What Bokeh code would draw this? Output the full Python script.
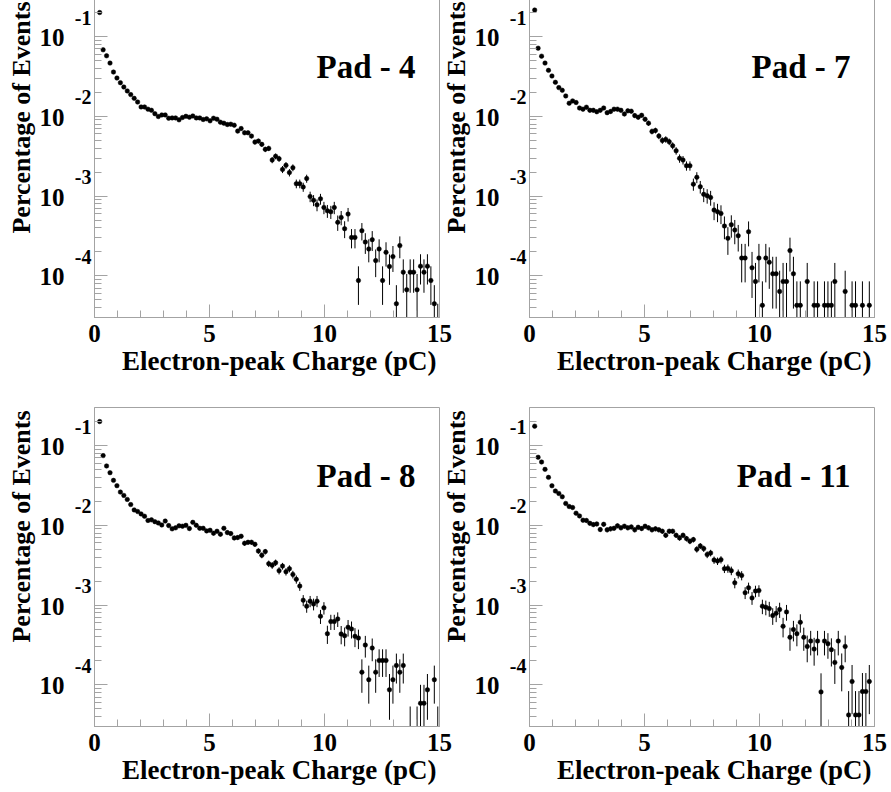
import math
from bokeh.plotting import figure
from bokeh.models import (ColumnDataSource, Label, FixedTicker, LogTicker, Range1d,
                          CustomJSTickFormatter, LogAxis, LogScale, Title)
from bokeh.layouts import row, column
from bokeh.embed import file_html
from bokeh.resources import INLINE

# ---------------- data ----------------
BIN_CENTERS = [
    0.225, 0.375, 0.525, 0.675, 0.825, 0.975, 1.125, 1.275, 1.425, 1.575,
    1.725, 1.875, 2.025, 2.175, 2.325, 2.475, 2.625, 2.775, 2.925, 3.075,
    3.225, 3.375, 3.525, 3.675, 3.825, 3.975, 4.125, 4.275, 4.425, 4.575,
    4.725, 4.875, 5.025, 5.175, 5.325, 5.475, 5.625, 5.775, 5.925, 6.075,
    6.225, 6.375, 6.525, 6.675, 6.825, 6.975, 7.125, 7.275, 7.425, 7.575,
    7.725, 7.875, 8.025, 8.175, 8.325, 8.475, 8.625, 8.775, 8.925, 9.075,
    9.225, 9.375, 9.525, 9.675, 9.825, 9.975, 10.125, 10.275, 10.425, 10.575,
    10.725, 10.875, 11.025, 11.175, 11.325, 11.475, 11.625, 11.775, 11.925, 12.075,
    12.225, 12.375, 12.525, 12.675, 12.825, 12.975, 13.125, 13.275, 13.425, 13.575,
    13.725, 13.875, 14.025, 14.175, 14.325, 14.475, 14.625, 14.775, 14.925,
]

PAD4 = [
    0.200, 0.0682, 0.0574, 0.0465, 0.0359, 0.0302, 0.0264, 0.0233, 0.0208, 0.0187,
    0.0168, 0.0151, 0.0131, 0.0131, 0.0123, 0.0119, 0.0108, 0.00993, 0.0104, 0.0104,
    0.00946, 0.00955, 0.00955, 0.00902, 0.00966, 0.0100, 0.00975, 0.0101, 0.00955, 0.00955,
    0.00912, 0.00929, 0.00877, 0.00946, 0.00920, 0.00843, 0.00820, 0.00789, 0.00796, 0.00774,
    0.00652, 0.00703, 0.00621, 0.00621, 0.00565, 0.00475, 0.00489, 0.00445, 0.00385, 0.00396,
    0.00283, 0.00315, 0.00294, 0.00216, 0.00243, 0.00197, 0.00227, 0.00143, 0.00143, 0.00130,
    0.00166, 0.000986, 0.000887, 0.000776, 0.000922, 0.000719, 0.000653, 0.000635, 0.000719, 0.000468,
    0.000540, 0.000390, 0.000594, 0.000303, 0.000303, 0.0000873, 0.000368, 0.000265, 0.000217, 0.000284,
    0.000155, 0.000217, 0.0000873, 0.000197, 0.000131, 0.000174, 0.0000447, 0.000239, 0.000111, 0.0000668,
    0.000111, 0.000111, 0.0000668, 0.000132, 0.000111, 0.000132, 0.0000873, 0.0000447, 0.0000223,
]

PAD7 = [
    0.215, 0.0715, 0.0568, 0.0465, 0.0377, 0.0320, 0.0267, 0.0229, 0.0212, 0.0180,
    0.0146, 0.0156, 0.0149, 0.0127, 0.0123, 0.0130, 0.0119, 0.0119, 0.0114, 0.0119,
    0.0127, 0.0111, 0.0115, 0.0123, 0.0123, 0.0119, 0.0107, 0.0117, 0.0116, 0.0102,
    0.00975, 0.0103, 0.00920, 0.00820, 0.00646, 0.00664, 0.00565, 0.00498, 0.00513, 0.00480,
    0.00428, 0.00370, 0.00297, 0.00283, 0.00240, 0.00240, 0.00141, 0.00172, 0.00131, 0.00105,
    0.00101, 0.000959, 0.000667, 0.000635, 0.000605, 0.000421, 0.000295, 0.000437, 0.000375, 0.000318,
    0.000167, 0.000167, 0.000357, 0.000126, 0.0000849, 0.000167, 0.0000426, 0.000167, 0.000148, 0.000106,
    0.000106, 0.0000637, 0.0000849, 0.0000849, 0.000207, 0.000106, 0.0000426, 0.0000426, None, 0.0000849,
    None, 0.0000426, 0.0000426, None, 0.0000426, 0.0000426, 0.0000426, 0.0000849, None, None,
    0.0000637, None, 0.0000426, 0.0000426, None, 0.0000426, None, 0.0000426, None,
]

PAD8 = [
    0.200, 0.0748, 0.0555, 0.0457, 0.0366, 0.0314, 0.0261, 0.0237, 0.0211, 0.0182,
    0.0156, 0.0149, 0.0139, 0.0130, 0.0115, 0.0117, 0.0111, 0.0107, 0.0101, 0.0113,
    0.00993, 0.00902, 0.00929, 0.00984, 0.00975, 0.0100, 0.00910, 0.0109, 0.0100, 0.00918,
    0.00918, 0.00851, 0.00867, 0.00796, 0.00843, 0.00773, 0.00918, 0.00811, 0.00787, 0.00695,
    0.00702, 0.00730, 0.00596, 0.00613, 0.00613, 0.00578, 0.00476, 0.00421, 0.00468, 0.00330,
    0.00315, 0.00340, 0.00270, 0.00308, 0.00262, 0.00286, 0.00242, 0.00210, 0.00173, 0.00115,
    0.000968, 0.00112, 0.00103, 0.00112, 0.000724, 0.000923, 0.000438, 0.000621, 0.000621, 0.000670,
    0.000434, 0.000413, 0.000526, 0.000501, 0.000405, 0.000386, 0.000144, 0.000315, 0.000116, 0.000289,
    0.000144, 0.000202, 0.000202, 0.000202, 0.0000865, 0.000116, 0.000175, 0.000144, 0.000175, None,
    0.000026, None, 0.000026, 0.0000587, 0.0000587, 0.0000865, None, 0.000116, 0.000026,
]

PAD11 = [
    0.175, 0.0713, 0.0622, 0.0503, 0.0399, 0.0313, 0.0269, 0.0251, 0.0228, 0.0188,
    0.0172, 0.0167, 0.0142, 0.0131, 0.0116, 0.0115, 0.0106, 0.0102, 0.0104, 0.00885,
    0.0103, 0.00877, 0.00902, 0.00919, 0.00984, 0.00929, 0.00975, 0.00929, 0.00955, 0.00877,
    0.00946, 0.00910, 0.00975, 0.00929, 0.00877, 0.00902, 0.00877, 0.00843, 0.00750, 0.00843,
    0.00843, 0.00750, 0.00695, 0.00750, 0.00681, 0.00631, 0.00662, 0.00500, 0.00551, 0.00510,
    0.00429, 0.00450, 0.00367, 0.00356, 0.00371, 0.00286, 0.00288, 0.00270, 0.00190, 0.00247,
    0.00235, 0.00143, 0.00165, 0.00123, 0.00150, 0.00152, 0.000968, 0.000940, 0.000904, 0.000738,
    0.000790, 0.000879, 0.000542, 0.000820, 0.000394, 0.000492, 0.000438, 0.000608, 0.000394, 0.000303,
    0.000354, 0.000281, 0.000354, 0.0000815, 0.000354, 0.000328, 0.000276, 0.000191, 0.000354, 0.000165,
    0.000303, 0.0000419, 0.000110, 0.0000419, 0.0000419, 0.0000824, 0.0000824, 0.000110, None,
]

# single-event weight of each pad (lowest quantised level seen in the tails)
EVENT_WEIGHT = {"Pad - 4": 2.23e-5, "Pad - 7": 4.26e-5, "Pad - 8": 2.9e-5, "Pad - 11": 4.1e-5}

PANEL_TITLES = ["Pad - 4", "Pad - 7", "Pad - 8", "Pad - 11"]
PANEL_VALUES = [PAD4, PAD7, PAD8, PAD11]

X_TICKS = [0, 5, 10, 15]
X_MINOR = list(range(0, 16))
Y_TICKS = [1e-1, 1e-2, 1e-3, 1e-4]
Y_EXPONENTS = ["-1", "-2", "-3", "-4"]
X_TITLE = "Electron-peak Charge (pC)"
Y_TITLE = "Percentage of Events"
Y_MIN, Y_MAX = 3e-5, 0.3

# ---------------- style ----------------
FONT = "Liberation Serif"
FRAME = "#a3a3a3"
PX_PER_DECADE = 319 / 4.0
EXP_SHIFT = 10 ** (19 / PX_PER_DECADE)   # raise exponent labels ~19 px
TEN_SHIFT = 10 ** (1 / PX_PER_DECADE)    # lower "10" labels ~1 px


def make_panel(title, values, left_col, top_row):
    weight = EVENT_WEIGHT[title]
    xs, ys, lo, hi = [], [], [], []
    for x, v in zip(BIN_CENTERS, values):
        if v is None:
            continue
        e = math.sqrt(v * weight)
        xs.append(x)
        ys.append(v)
        lo.append(max(v - e, 1e-9))
        hi.append(v + e)
    src = ColumnDataSource(dict(x=xs, y=ys, lo=lo, hi=hi))

    kw = dict(
        frame_width=345, frame_height=319,
        x_range=Range1d(0, 15), y_range=Range1d(Y_MIN, Y_MAX),
        y_axis_type="log", output_backend="svg", toolbar_location=None,
        min_border_left=94 if left_col else 92,
        min_border_right=14,
        min_border_top=0 if top_row else 23,
        min_border_bottom=67 if top_row else 55,
        border_fill_color=None,
        background_fill_color="white",
        outline_line_color=FRAME, outline_line_width=1,
    )
    if not left_col:
        kw["margin"] = (0, 0, 0, -16)
    p = figure(**kw)
    p.xgrid.visible = False
    p.ygrid.visible = False

    # ---- x axis
    xa = p.xaxis[0]
    xa.ticker = FixedTicker(ticks=X_TICKS, minor_ticks=X_MINOR)
    xa.major_tick_in = 13
    xa.major_tick_out = 0
    xa.minor_tick_in = 7
    xa.minor_tick_out = 0
    xa.axis_line_color = FRAME
    xa.major_tick_line_color = FRAME
    xa.minor_tick_line_color = FRAME
    xa.major_label_text_font = FONT
    xa.major_label_text_font_style = "bold"
    xa.major_label_text_font_size = "25px"
    xa.major_label_text_color = "black"
    xa.major_label_standoff = 7

    # ---- y axis (ticks only)
    ya = p.yaxis[0]
    ya.ticker = LogTicker(num_minor_ticks=10)
    ya.formatter = CustomJSTickFormatter(code="return ' ';")
    ya.major_tick_in = 13
    ya.major_tick_out = 0
    ya.minor_tick_in = 7
    ya.minor_tick_out = 0
    ya.axis_line_color = FRAME
    ya.major_tick_line_color = FRAME
    ya.minor_tick_line_color = FRAME
    ya.major_label_text_font_size = "1px"
    ya.major_label_standoff = 0

    # ---- ROOT-style tick labels: raised exponent + "10"
    p.extra_y_ranges = {
        "exp": Range1d(Y_MIN / EXP_SHIFT, Y_MAX / EXP_SHIFT),
        "ten": Range1d(Y_MIN * TEN_SHIFT, Y_MAX * TEN_SHIFT),
    }
    p.extra_y_scales = {"exp": LogScale(), "ten": LogScale()}

    exp_axis = LogAxis(
        y_range_name="exp",
        ticker=FixedTicker(ticks=Y_TICKS, minor_ticks=[]),
        formatter=CustomJSTickFormatter(
            args=dict(decades=Y_TICKS, exps=Y_EXPONENTS),
            code="for (let i = 0; i < decades.length; i++) {"
                 " if (Math.abs(Math.log10(decades[i]) - Math.log10(tick)) < 1e-6) return exps[i]; }"
                 " return '';"),
        major_tick_in=0, major_tick_out=0, minor_tick_in=0, minor_tick_out=0,
        major_tick_line_color=None, minor_tick_line_color=None, axis_line_color=None,
        major_label_standoff=0,
        major_label_text_font=FONT, major_label_text_font_style="bold",
        major_label_text_font_size="20px", major_label_text_color="black",
    )
    p.add_layout(exp_axis, "left")

    ten_axis = LogAxis(
        y_range_name="ten",
        ticker=FixedTicker(ticks=Y_TICKS, minor_ticks=[]),
        formatter=CustomJSTickFormatter(code="return '10';"),
        major_tick_in=0, major_tick_out=0, minor_tick_in=0, minor_tick_out=0,
        major_tick_line_color=None, minor_tick_line_color=None, axis_line_color=None,
        major_label_standoff=7,
        major_label_text_font=FONT, major_label_text_font_style="bold",
        major_label_text_font_size="25px", major_label_text_color="black",
    )
    p.add_layout(ten_axis, "left")

    # ---- axis titles, right / top aligned as in the original
    p.add_layout(Title(text=Y_TITLE, align="right", vertical_align="middle",
                       standoff=0, offset=3,
                       text_font=FONT, text_font_style="bold",
                       text_font_size="26px", text_color="black"), "left")
    p.add_layout(Title(text=X_TITLE, align="right", vertical_align="middle",
                       standoff=0, offset=3,
                       text_font=FONT, text_font_style="bold",
                       text_font_size="27px", text_color="black"), "below")

    # ---- data
    p.segment(x0="x", y0="lo", x1="x", y1="hi", source=src,
              line_color="black", line_width=1)
    p.scatter(x="x", y="y", source=src, size=4.5, marker="circle",
              fill_color="black", line_color="black", line_width=0.5)

    # ---- pad name
    p.add_layout(Label(x=15, y=Y_MAX, x_offset=-24, y_offset=-68, text=title,
                       text_align="right", text_baseline="alphabetic",
                       text_font=FONT, text_font_style="bold",
                       text_font_size="33px", text_color="black"))
    return p


panels = []
for i, (t, vals) in enumerate(zip(PANEL_TITLES, PANEL_VALUES)):
    panels.append(make_panel(t, vals, left_col=(i % 2 == 0), top_row=(i < 2)))

layout = column(row(panels[0], panels[1]), row(panels[2], panels[3]),
                margin=(-2, 0, 0, 0))

open("out.html", "w").write(file_html(layout, INLINE))
